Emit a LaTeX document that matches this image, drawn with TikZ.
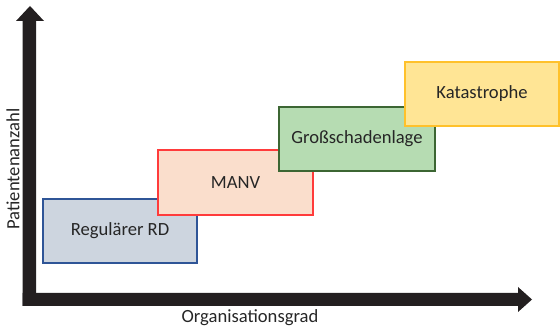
\documentclass[tikz,border=0pt]{standalone}
\usepackage{fontspec}
\setmainfont{Carlito}
\begin{document}
\begin{tikzpicture}[x=1pt,y=-1pt,
  lbl/.style={font=\fontsize{18.6}{22}\selectfont, text=txtgray},
  stagebox/.style={line width=1.5pt, minimum width=155pt, minimum height=64pt, inner sep=0pt,
     font=\fontsize{18.6}{22}\selectfont, text=txtgray},
  axisfill/.style={fill=axisblk}
]
\definecolor{txtgray}{HTML}{262626}
\definecolor{axisblk}{HTML}{231F20}
\definecolor{rdfill}{HTML}{CDD5DF}
\definecolor{rddraw}{HTML}{2F5597}
\definecolor{mfill}{HTML}{FADECC}
\definecolor{mdraw}{HTML}{FF3B3B}
\definecolor{gfill}{HTML}{B6DCB2}
\definecolor{gdraw}{HTML}{3C6633}
\definecolor{kfill}{HTML}{FFE595}
\definecolor{kdraw}{HTML}{FFC12B}
\useasboundingbox (0,0) rectangle (560,328);
% axes
\path[axisfill] (22.5,306) -- (22.5,21) -- (16,21) -- (30,6) -- (44,21) -- (36,21) -- (36,306) -- cycle;
\path[axisfill] (22.5,306) -- (22.5,293) -- (518,293) -- (518,287) -- (532,299.5) -- (518,312) -- (518,306) -- cycle;
% boxes
\node[stagebox, draw=rddraw, fill=rdfill, minimum width=154pt] (rd) at (120,231) {Regulärer RD};
\node[stagebox, draw=mdraw, fill=mfill, minimum height=65pt] (manv) at (235.5,182.5) {MANV};
\node[stagebox, draw=gdraw, fill=gfill, minimum width=156pt] (gsl) at (357,139) {Großschadenlage};
\node[stagebox, draw=kdraw, fill=kfill, minimum width=154pt] (kat) at (482,94) {Katastrophe};
% axis labels
\node[lbl, rotate=90] (ylab) at (13,169) {Patientenanzahl};
\node[lbl] (xlab) at (250,318) {Organisationsgrad};
\end{tikzpicture}
\end{document}
